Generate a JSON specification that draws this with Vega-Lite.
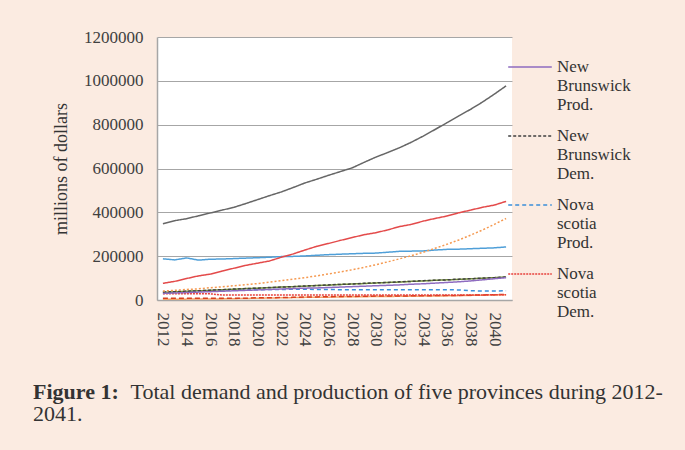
{
  "$schema": "https://vega.github.io/schema/vega-lite/v6.json",
  "width": 355,
  "height": 263,
  "autosize": {"type": "none"},
  "padding": {"left": 157, "top": 37, "right": 173, "bottom": 150},
  "background": "#fbebe1",
  "config": {
    "view": {"fill": "white", "stroke": null},
    "font": "Liberation Serif"
  },
  "title": {
    "text": "Figure 1:",
    "subtitle": "2041.",
    "orient": "bottom",
    "anchor": "start",
    "frame": "group",
    "dx": -124,
    "dy": -24,
    "font": "Liberation Serif",
    "fontSize": 22,
    "fontWeight": "bold",
    "color": "#333333",
    "subtitleFont": "Liberation Serif",
    "subtitleFontSize": 22,
    "subtitleColor": "#333333",
    "subtitlePadding": 0
  },
  "data": {
    "values": [
      {"year": 2012, "G": 348000, "R": 76000, "OD": 41000, "B": 188000, "GR": 35000, "NBP": 30000, "NBD": 36000, "NSP": 35000, "NSD": 29000, "RD": 8000, "OS": 3000},
      {"year": 2013, "G": 362000, "R": 85000, "OD": 44000, "B": 183000, "GR": 37000, "NBP": 32000, "NBD": 38000, "NSP": 36000, "NSD": 29000, "RD": 8000, "OS": 3000},
      {"year": 2014, "G": 371000, "R": 98000, "OD": 48000, "B": 192000, "GR": 40000, "NBP": 34000, "NBD": 40000, "NSP": 37000, "NSD": 28000, "RD": 8000, "OS": 4000},
      {"year": 2015, "G": 384000, "R": 110000, "OD": 51000, "B": 182000, "GR": 42000, "NBP": 36000, "NBD": 42000, "NSP": 40000, "NSD": 28000, "RD": 8000, "OS": 4000},
      {"year": 2016, "G": 397000, "R": 118000, "OD": 56000, "B": 186000, "GR": 44000, "NBP": 38000, "NBD": 45000, "NSP": 42000, "NSD": 28000, "RD": 8000, "OS": 5000},
      {"year": 2017, "G": 410000, "R": 132000, "OD": 60000, "B": 187000, "GR": 47000, "NBP": 40000, "NBD": 47000, "NSP": 44000, "NSD": 23000, "RD": 8000, "OS": 5000},
      {"year": 2018, "G": 423000, "R": 145000, "OD": 65000, "B": 189000, "GR": 49000, "NBP": 42000, "NBD": 50000, "NSP": 45000, "NSD": 23000, "RD": 8000, "OS": 6000},
      {"year": 2019, "G": 440000, "R": 158000, "OD": 70000, "B": 191000, "GR": 52000, "NBP": 44000, "NBD": 52000, "NSP": 46000, "NSD": 23000, "RD": 8000, "OS": 7000},
      {"year": 2020, "G": 458000, "R": 168000, "OD": 75000, "B": 193000, "GR": 54000, "NBP": 46000, "NBD": 54000, "NSP": 47000, "NSD": 23000, "RD": 10000, "OS": 8000},
      {"year": 2021, "G": 476000, "R": 178000, "OD": 81000, "B": 195000, "GR": 56000, "NBP": 48000, "NBD": 57000, "NSP": 48000, "NSD": 23000, "RD": 10000, "OS": 9000},
      {"year": 2022, "G": 493000, "R": 195000, "OD": 88000, "B": 198000, "GR": 59000, "NBP": 50000, "NBD": 59000, "NSP": 48000, "NSD": 23000, "RD": 11000, "OS": 10000},
      {"year": 2023, "G": 513000, "R": 210000, "OD": 95000, "B": 199000, "GR": 61000, "NBP": 52000, "NBD": 61000, "NSP": 49000, "NSD": 23000, "RD": 12000, "OS": 11000},
      {"year": 2024, "G": 534000, "R": 228000, "OD": 102000, "B": 201000, "GR": 63000, "NBP": 54000, "NBD": 64000, "NSP": 49000, "NSD": 23000, "RD": 14000, "OS": 12000},
      {"year": 2025, "G": 551000, "R": 245000, "OD": 110000, "B": 204000, "GR": 66000, "NBP": 55000, "NBD": 66000, "NSP": 48000, "NSD": 23000, "RD": 14000, "OS": 13000},
      {"year": 2026, "G": 569000, "R": 258000, "OD": 119000, "B": 207000, "GR": 68000, "NBP": 57000, "NBD": 69000, "NSP": 48000, "NSD": 23000, "RD": 15000, "OS": 13000},
      {"year": 2027, "G": 586000, "R": 272000, "OD": 128000, "B": 209000, "GR": 71000, "NBP": 59000, "NBD": 71000, "NSP": 47000, "NSD": 23000, "RD": 16000, "OS": 14000},
      {"year": 2028, "G": 603000, "R": 285000, "OD": 138000, "B": 211000, "GR": 73000, "NBP": 61000, "NBD": 73000, "NSP": 47000, "NSD": 23000, "RD": 16000, "OS": 15000},
      {"year": 2029, "G": 628000, "R": 298000, "OD": 149000, "B": 213000, "GR": 75000, "NBP": 63000, "NBD": 76000, "NSP": 47000, "NSD": 23000, "RD": 17000, "OS": 15000},
      {"year": 2030, "G": 652000, "R": 307000, "OD": 161000, "B": 214000, "GR": 78000, "NBP": 65000, "NBD": 78000, "NSP": 47000, "NSD": 23000, "RD": 18000, "OS": 16000},
      {"year": 2031, "G": 673000, "R": 320000, "OD": 174000, "B": 218000, "GR": 80000, "NBP": 67000, "NBD": 80000, "NSP": 47000, "NSD": 23000, "RD": 18000, "OS": 16000},
      {"year": 2032, "G": 695000, "R": 335000, "OD": 188000, "B": 222000, "GR": 82000, "NBP": 69000, "NBD": 83000, "NSP": 47000, "NSD": 23000, "RD": 18000, "OS": 17000},
      {"year": 2033, "G": 720000, "R": 345000, "OD": 202000, "B": 223000, "GR": 85000, "NBP": 72000, "NBD": 85000, "NSP": 47000, "NSD": 23000, "RD": 19000, "OS": 17000},
      {"year": 2034, "G": 748000, "R": 360000, "OD": 218000, "B": 224000, "GR": 87000, "NBP": 74000, "NBD": 88000, "NSP": 47000, "NSD": 23000, "RD": 19000, "OS": 18000},
      {"year": 2035, "G": 778000, "R": 372000, "OD": 236000, "B": 228000, "GR": 90000, "NBP": 77000, "NBD": 90000, "NSP": 47000, "NSD": 23000, "RD": 20000, "OS": 18000},
      {"year": 2036, "G": 809000, "R": 383000, "OD": 254000, "B": 231000, "GR": 92000, "NBP": 80000, "NBD": 92000, "NSP": 47000, "NSD": 23000, "RD": 20000, "OS": 19000},
      {"year": 2037, "G": 840000, "R": 398000, "OD": 274000, "B": 232000, "GR": 94000, "NBP": 83000, "NBD": 95000, "NSP": 46000, "NSD": 23000, "RD": 21000, "OS": 20000},
      {"year": 2038, "G": 870000, "R": 410000, "OD": 296000, "B": 234000, "GR": 97000, "NBP": 87000, "NBD": 97000, "NSP": 42000, "NSD": 23000, "RD": 22000, "OS": 21000},
      {"year": 2039, "G": 903000, "R": 423000, "OD": 319000, "B": 236000, "GR": 99000, "NBP": 92000, "NBD": 100000, "NSP": 41000, "NSD": 23000, "RD": 23000, "OS": 22000},
      {"year": 2040, "G": 939000, "R": 433000, "OD": 345000, "B": 238000, "GR": 102000, "NBP": 97000, "NBD": 102000, "NSP": 41000, "NSD": 24000, "RD": 24000, "OS": 23000},
      {"year": 2041, "G": 977000, "R": 450000, "OD": 372000, "B": 242000, "GR": 105000, "NBP": 102000, "NBD": 105000, "NSP": 42000, "NSD": 24000, "RD": 26000, "OS": 24000}
    ]
  },
  "transform": [
    {"fold": ["OS", "RD", "NSD", "NSP", "GR", "NBD", "NBP", "B", "OD", "R", "G"], "as": ["key", "value"]}
  ],
  "mark": {"type": "line", "clip": true},
  "encoding": {
    "x": {
      "field": "year",
      "type": "ordinal",
      "scale": {"paddingOuter": 0.5},
      "axis": {
        "values": [2012, 2014, 2016, 2018, 2020, 2022, 2024, 2026, 2028, 2030, 2032, 2034, 2036, 2038, 2040],
        "labelAngle": 90,
        "labelFont": "Liberation Serif",
        "labelFontSize": 17,
        "labelColor": "#404040",
        "labelPadding": 12,
        "ticks": false,
        "grid": false,
        "domainColor": "#a6a6a6",
        "domainWidth": 1.5,
        "title": "Total demand and production of five provinces during 2012-",
        "titleX": -27,
        "titleY": 98,
        "titleAlign": "left",
        "titleAnchor": null,
        "titleBaseline": "alphabetic",
        "titleFont": "Liberation Serif",
        "titleFontSize": 22,
        "titleFontWeight": "normal",
        "titleColor": "#333333"
      }
    },
    "y": {
      "field": "value",
      "type": "quantitative",
      "scale": {"domain": [0, 1200000], "nice": false},
      "axis": {
        "values": [0, 200000, 400000, 600000, 800000, 1000000, 1200000],
        "format": "d",
        "labelFont": "Liberation Serif",
        "labelFontSize": 17,
        "labelColor": "#404040",
        "labelPadding": 14,
        "ticks": false,
        "grid": true,
        "gridColor": "#a6a6a6",
        "gridWidth": 1,
        "domainColor": "#a6a6a6",
        "domainWidth": 1.5,
        "title": "millions of dollars",
        "titleFont": "Liberation Serif",
        "titleFontSize": 18,
        "titleFontWeight": "normal",
        "titleColor": "#333333",
        "titlePadding": 13
      }
    },
    "color": {
      "field": "key",
      "type": "nominal",
      "scale": {
        "domain": ["NBP", "NBD", "NSP", "NSD", "G", "R", "OD", "B", "GR", "RD", "OS"],
        "range": ["#8e6cc0", "#404040", "#3b8fd9", "#e8413c", "#666666", "#e34a4a", "#f59a52", "#4f9fd8", "#77933c", "#d9401e", "#f4a36c"]
      },
      "legend": {
        "values": ["NBP", "NBD", "NSP", "NSD"],
        "orient": "none",
        "legendX": 350,
        "legendY": 7,
        "title": null,
        "labelExpr": "datum.value == 'NBP' ? ['New', 'Brunswick', 'Prod.'] : datum.value == 'NBD' ? ['New', 'Brunswick', 'Dem.'] : datum.value == 'NSP' ? ['Nova', 'scotia', 'Prod.'] : ['Nova', 'scotia', 'Dem.']",
        "symbolType": "stroke",
        "symbolSize": 1900,
        "symbolStrokeWidth": 1.5,
        "labelFont": "Liberation Serif",
        "labelFontSize": 17,
        "labelColor": "#333333",
        "labelOffset": 4,
        "labelBaseline": "middle",
        "labelLimit": 0,
        "rowPadding": -18
      }
    },
    "strokeDash": {
      "field": "key",
      "type": "nominal",
      "scale": {
        "domain": ["NBP", "NBD", "NSP", "NSD", "G", "R", "OD", "B", "GR", "RD", "OS"],
        "range": [[1, 0], [3, 2], [4, 3], [2, 1], [1, 0], [1, 0], [2, 2], [1, 0], [1, 0], [5, 3], [1, 0]]
      },
      "legend": {
        "values": ["NBP", "NBD", "NSP", "NSD"],
        "orient": "none",
        "legendX": 350,
        "legendY": 7,
        "title": null,
        "labelExpr": "datum.value == 'NBP' ? ['New', 'Brunswick', 'Prod.'] : datum.value == 'NBD' ? ['New', 'Brunswick', 'Dem.'] : datum.value == 'NSP' ? ['Nova', 'scotia', 'Prod.'] : ['Nova', 'scotia', 'Dem.']",
        "symbolType": "stroke",
        "symbolSize": 1900,
        "symbolStrokeWidth": 1.5,
        "labelFont": "Liberation Serif",
        "labelFontSize": 17,
        "labelColor": "#333333",
        "labelOffset": 4,
        "labelBaseline": "middle",
        "labelLimit": 0,
        "rowPadding": -18
      }
    },
    "strokeWidth": {
      "field": "key",
      "type": "nominal",
      "scale": {
        "domain": ["NBP", "NBD", "NSP", "NSD", "G", "R", "OD", "B", "GR", "RD", "OS"],
        "range": [1.5, 1.5, 1.5, 1.5, 1.5, 1.5, 2, 1.5, 1.5, 2.5, 2]
      },
      "legend": null
    }
  }
}
